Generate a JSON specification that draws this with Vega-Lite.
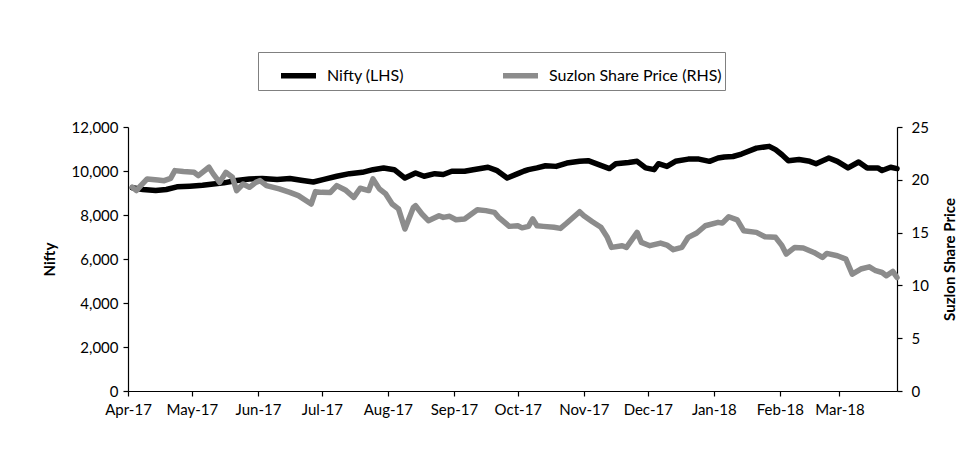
{
  "$schema": "https://vega.github.io/schema/vega-lite/v6.json",
  "width": 769,
  "height": 264,
  "autosize": {"type": "none"},
  "padding": {"left": 128, "top": 127, "right": 83, "bottom": 69},
  "background": "white",
  "config": {
    "view": {"stroke": null},
    "font": "Lato",
    "axis": {
      "grid": false,
      "domainColor": "#000000",
      "domainWidth": 1.2,
      "tickColor": "#000000",
      "tickWidth": 1.2,
      "tickSize": 5,
      "labelColor": "#000000",
      "labelFont": "Lato",
      "labelFontSize": 15,
      "titleColor": "#000000",
      "titleFont": "Lato",
      "titleFontSize": 15,
      "titleFontWeight": "bold"
    }
  },
  "datasets": {
    "nifty": [
      {"date": "2017-04-03", "nifty": 9240},
      {"date": "2017-04-08", "nifty": 9160},
      {"date": "2017-04-14", "nifty": 9110},
      {"date": "2017-04-19", "nifty": 9160},
      {"date": "2017-04-24", "nifty": 9280},
      {"date": "2017-04-30", "nifty": 9310},
      {"date": "2017-05-06", "nifty": 9350},
      {"date": "2017-05-11", "nifty": 9410},
      {"date": "2017-05-16", "nifty": 9460},
      {"date": "2017-05-22", "nifty": 9570},
      {"date": "2017-05-28", "nifty": 9640},
      {"date": "2017-06-03", "nifty": 9660},
      {"date": "2017-06-10", "nifty": 9610},
      {"date": "2017-06-16", "nifty": 9660},
      {"date": "2017-06-22", "nifty": 9570},
      {"date": "2017-06-27", "nifty": 9500},
      {"date": "2017-07-02", "nifty": 9620},
      {"date": "2017-07-08", "nifty": 9760},
      {"date": "2017-07-14", "nifty": 9880},
      {"date": "2017-07-20", "nifty": 9940},
      {"date": "2017-07-25", "nifty": 10060},
      {"date": "2017-07-30", "nifty": 10140},
      {"date": "2017-08-04", "nifty": 10060},
      {"date": "2017-08-09", "nifty": 9680},
      {"date": "2017-08-14", "nifty": 9910},
      {"date": "2017-08-18", "nifty": 9760},
      {"date": "2017-08-23", "nifty": 9880},
      {"date": "2017-08-27", "nifty": 9840},
      {"date": "2017-08-31", "nifty": 9990},
      {"date": "2017-09-06", "nifty": 9990},
      {"date": "2017-09-10", "nifty": 10060},
      {"date": "2017-09-17", "nifty": 10170},
      {"date": "2017-09-21", "nifty": 10030},
      {"date": "2017-09-26", "nifty": 9680},
      {"date": "2017-10-01", "nifty": 9880},
      {"date": "2017-10-04", "nifty": 10000},
      {"date": "2017-10-06", "nifty": 10060},
      {"date": "2017-10-10", "nifty": 10140},
      {"date": "2017-10-14", "nifty": 10240},
      {"date": "2017-10-19", "nifty": 10210},
      {"date": "2017-10-24", "nifty": 10360},
      {"date": "2017-10-30", "nifty": 10440},
      {"date": "2017-11-03", "nifty": 10470},
      {"date": "2017-11-08", "nifty": 10290},
      {"date": "2017-11-13", "nifty": 10110},
      {"date": "2017-11-16", "nifty": 10330},
      {"date": "2017-11-22", "nifty": 10390},
      {"date": "2017-11-26", "nifty": 10440},
      {"date": "2017-11-30", "nifty": 10140},
      {"date": "2017-12-04", "nifty": 10060},
      {"date": "2017-12-06", "nifty": 10330},
      {"date": "2017-12-10", "nifty": 10210},
      {"date": "2017-12-14", "nifty": 10440},
      {"date": "2017-12-20", "nifty": 10540},
      {"date": "2017-12-25", "nifty": 10540},
      {"date": "2017-12-30", "nifty": 10440},
      {"date": "2018-01-03", "nifty": 10590},
      {"date": "2018-01-06", "nifty": 10640},
      {"date": "2018-01-10", "nifty": 10660},
      {"date": "2018-01-14", "nifty": 10770},
      {"date": "2018-01-21", "nifty": 11040},
      {"date": "2018-01-27", "nifty": 11120},
      {"date": "2018-01-30", "nifty": 10970},
      {"date": "2018-02-02", "nifty": 10740},
      {"date": "2018-02-05", "nifty": 10470},
      {"date": "2018-02-10", "nifty": 10520},
      {"date": "2018-02-15", "nifty": 10440},
      {"date": "2018-02-18", "nifty": 10330},
      {"date": "2018-02-24", "nifty": 10590},
      {"date": "2018-02-28", "nifty": 10440},
      {"date": "2018-03-05", "nifty": 10140},
      {"date": "2018-03-10", "nifty": 10410},
      {"date": "2018-03-14", "nifty": 10140},
      {"date": "2018-03-19", "nifty": 10140},
      {"date": "2018-03-21", "nifty": 10020},
      {"date": "2018-03-25", "nifty": 10170},
      {"date": "2018-03-28", "nifty": 10110}
    ],
    "suzlon": [
      {"date": "2017-04-03", "suzlon": 19.3},
      {"date": "2017-04-05", "suzlon": 18.98},
      {"date": "2017-04-07", "suzlon": 19.45},
      {"date": "2017-04-10", "suzlon": 20.08},
      {"date": "2017-04-15", "suzlon": 19.99},
      {"date": "2017-04-18", "suzlon": 19.92},
      {"date": "2017-04-21", "suzlon": 20.14},
      {"date": "2017-04-23", "suzlon": 20.87},
      {"date": "2017-04-27", "suzlon": 20.78},
      {"date": "2017-05-02", "suzlon": 20.71},
      {"date": "2017-05-04", "suzlon": 20.4},
      {"date": "2017-05-09", "suzlon": 21.19},
      {"date": "2017-05-11", "suzlon": 20.56},
      {"date": "2017-05-14", "suzlon": 19.76},
      {"date": "2017-05-17", "suzlon": 20.71},
      {"date": "2017-05-20", "suzlon": 20.24},
      {"date": "2017-05-22", "suzlon": 18.98},
      {"date": "2017-05-25", "suzlon": 19.6},
      {"date": "2017-05-28", "suzlon": 19.29},
      {"date": "2017-05-31", "suzlon": 19.76},
      {"date": "2017-06-02", "suzlon": 19.92},
      {"date": "2017-06-05", "suzlon": 19.45},
      {"date": "2017-06-11", "suzlon": 19.14},
      {"date": "2017-06-16", "suzlon": 18.81},
      {"date": "2017-06-20", "suzlon": 18.5},
      {"date": "2017-06-26", "suzlon": 17.71},
      {"date": "2017-06-28", "suzlon": 18.88},
      {"date": "2017-07-01", "suzlon": 18.81},
      {"date": "2017-07-05", "suzlon": 18.8},
      {"date": "2017-07-08", "suzlon": 19.45},
      {"date": "2017-07-12", "suzlon": 19.04},
      {"date": "2017-07-16", "suzlon": 18.34},
      {"date": "2017-07-19", "suzlon": 19.2},
      {"date": "2017-07-23", "suzlon": 18.98},
      {"date": "2017-07-25", "suzlon": 20.08},
      {"date": "2017-07-28", "suzlon": 19.14},
      {"date": "2017-07-31", "suzlon": 18.66},
      {"date": "2017-08-03", "suzlon": 17.71},
      {"date": "2017-08-06", "suzlon": 17.24},
      {"date": "2017-08-09", "suzlon": 15.34},
      {"date": "2017-08-13", "suzlon": 17.39},
      {"date": "2017-08-14", "suzlon": 17.55},
      {"date": "2017-08-17", "suzlon": 16.76},
      {"date": "2017-08-20", "suzlon": 16.13},
      {"date": "2017-08-25", "suzlon": 16.6},
      {"date": "2017-08-27", "suzlon": 16.44},
      {"date": "2017-08-30", "suzlon": 16.54},
      {"date": "2017-09-02", "suzlon": 16.22},
      {"date": "2017-09-06", "suzlon": 16.29},
      {"date": "2017-09-12", "suzlon": 17.17},
      {"date": "2017-09-16", "suzlon": 17.08},
      {"date": "2017-09-20", "suzlon": 16.92},
      {"date": "2017-09-22", "suzlon": 16.44},
      {"date": "2017-09-27", "suzlon": 15.59},
      {"date": "2017-10-01", "suzlon": 15.65},
      {"date": "2017-10-03", "suzlon": 15.45},
      {"date": "2017-10-06", "suzlon": 15.59},
      {"date": "2017-10-08", "suzlon": 16.29},
      {"date": "2017-10-10", "suzlon": 15.65},
      {"date": "2017-10-13", "suzlon": 15.59},
      {"date": "2017-10-18", "suzlon": 15.5},
      {"date": "2017-10-21", "suzlon": 15.4},
      {"date": "2017-10-24", "suzlon": 15.91},
      {"date": "2017-10-30", "suzlon": 16.98},
      {"date": "2017-11-01", "suzlon": 16.6},
      {"date": "2017-11-05", "suzlon": 16.03},
      {"date": "2017-11-09", "suzlon": 15.5},
      {"date": "2017-11-12", "suzlon": 14.55},
      {"date": "2017-11-14", "suzlon": 13.6},
      {"date": "2017-11-19", "suzlon": 13.76},
      {"date": "2017-11-21", "suzlon": 13.6},
      {"date": "2017-11-26", "suzlon": 15.02},
      {"date": "2017-11-28", "suzlon": 14.07},
      {"date": "2017-12-02", "suzlon": 13.76},
      {"date": "2017-12-07", "suzlon": 14.01},
      {"date": "2017-12-10", "suzlon": 13.82},
      {"date": "2017-12-13", "suzlon": 13.38},
      {"date": "2017-12-17", "suzlon": 13.6},
      {"date": "2017-12-20", "suzlon": 14.55},
      {"date": "2017-12-24", "suzlon": 14.96},
      {"date": "2017-12-28", "suzlon": 15.65},
      {"date": "2018-01-03", "suzlon": 15.97},
      {"date": "2018-01-05", "suzlon": 15.9},
      {"date": "2018-01-08", "suzlon": 16.5},
      {"date": "2018-01-12", "suzlon": 16.2},
      {"date": "2018-01-15", "suzlon": 15.18},
      {"date": "2018-01-21", "suzlon": 15.02},
      {"date": "2018-01-25", "suzlon": 14.61},
      {"date": "2018-01-30", "suzlon": 14.55},
      {"date": "2018-02-02", "suzlon": 13.76},
      {"date": "2018-02-04", "suzlon": 12.97},
      {"date": "2018-02-08", "suzlon": 13.6},
      {"date": "2018-02-12", "suzlon": 13.54},
      {"date": "2018-02-17", "suzlon": 13.12},
      {"date": "2018-02-21", "suzlon": 12.65},
      {"date": "2018-02-23", "suzlon": 13.03},
      {"date": "2018-02-28", "suzlon": 12.81},
      {"date": "2018-03-04", "suzlon": 12.49},
      {"date": "2018-03-07", "suzlon": 11.07},
      {"date": "2018-03-11", "suzlon": 11.55},
      {"date": "2018-03-15", "suzlon": 11.76},
      {"date": "2018-03-18", "suzlon": 11.39},
      {"date": "2018-03-21", "suzlon": 11.22},
      {"date": "2018-03-23", "suzlon": 10.91},
      {"date": "2018-03-26", "suzlon": 11.32},
      {"date": "2018-03-28", "suzlon": 10.75}
    ]
  },
  "layer": [
    {
      "data": {"name": "nifty"},
      "mark": {"type": "line", "strokeWidth": 5.5, "strokeJoin": "round", "strokeCap": "round"},
      "encoding": {
        "x": {
          "field": "date",
          "type": "temporal",
          "scale": {"domain": [{"year": 2017, "month": 4, "date": 1}, {"year": 2018, "month": 3, "date": 28}]},
          "axis": {
            "title": null,
            "format": "%b-%y",
            "tickCount": {"interval": "month", "step": 1},
            "labelFlush": false,
            "labelOverlap": false,
            "labelPadding": 6
          }
        },
        "y": {
          "field": "nifty",
          "type": "quantitative",
          "scale": {"domain": [0, 12000], "nice": false, "zero": true},
          "axis": {
            "title": "Nifty",
            "orient": "left",
            "values": [0, 2000, 4000, 6000, 8000, 10000, 12000],
            "format": ",.0f",
            "labelPadding": 5,
            "titlePadding": 14
          }
        },
        "color": {
          "datum": "Nifty (LHS)",
          "type": "nominal",
          "scale": {"domain": ["Nifty (LHS)", "Suzlon Share Price (RHS)"], "range": ["#000000", "#8c8c8c"]},
          "legend": {
            "title": null,
            "orient": "none",
            "legendX": 130,
            "legendY": -75,
            "direction": "horizontal",
            "columns": 2,
            "symbolType": "stroke",
            "symbolSize": 1225,
            "symbolStrokeWidth": 5.5,
            "symbolOffset": 17,
            "labelFont": "Lato",
            "labelFontSize": 16,
            "labelColor": "#000000",
            "labelOffset": 8,
            "labelLimit": 400,
            "columnPadding": 79,
            "padding": 3,
            "strokeColor": "#808080",
            "fillColor": "#ffffff"
          }
        }
      }
    },
    {
      "data": {"name": "suzlon"},
      "mark": {"type": "line", "strokeWidth": 5.5, "strokeJoin": "round", "strokeCap": "round"},
      "encoding": {
        "x": {"field": "date", "type": "temporal"},
        "y": {
          "field": "suzlon",
          "type": "quantitative",
          "scale": {"domain": [0, 25], "nice": false},
          "axis": {
            "title": "Suzlon Share Price",
            "orient": "right",
            "values": [0, 5, 10, 15, 20, 25],
            "labelPadding": 9,
            "titlePadding": 14,
            "titleAngle": 270,
            "titleBaseline": "top"
          }
        },
        "color": {"datum": "Suzlon Share Price (RHS)", "type": "nominal"}
      }
    }
  ],
  "resolve": {"scale": {"y": "independent"}}
}
